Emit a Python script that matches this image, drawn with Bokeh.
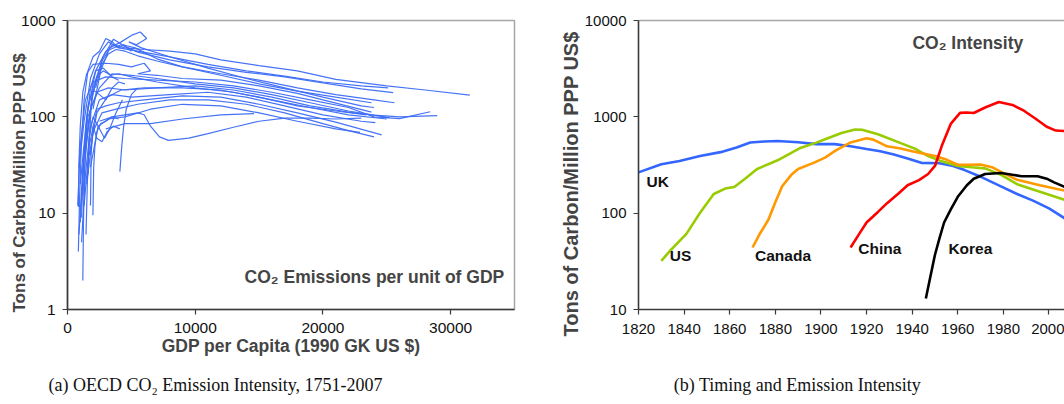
from bokeh.plotting import figure
from bokeh.layouts import row, column
from bokeh.models import Range1d, FixedTicker, NumeralTickFormatter, Label, LinearAxis, Title
from bokeh.core.properties import value
from bokeh.embed import file_html
from bokeh.resources import INLINE

SANS = "Liberation Sans"
SERIF = "Liberation Serif"

# ---------------- panel (a): OECD intensity vs GDP per capita ----------------
gdp_01 = [1200, 1500, 2000, 2700, 3500, 4500, 6000, 8000, 10000, 12000, 15000, 18000, 21000, 25000, 28000, 31500]
int_01 = [15, 60, 180, 380, 560, 520, 500, 480, 450, 390, 340, 300, 245, 210, 190, 168]
gdp_02 = [900, 1300, 1800, 2500, 3200, 4000, 5500, 8000, 11000, 14000, 17000, 20000, 23000, 25100]
int_02 = [30, 90, 250, 450, 600, 520, 480, 420, 350, 300, 265, 230, 210, 200]
gdp_03 = [1000, 1500, 2200, 3000, 4200, 5500, 8000, 11000, 14000, 17000, 20000, 23000, 25500]
int_03 = [20, 100, 300, 480, 560, 470, 390, 330, 290, 260, 225, 195, 178]
gdp_04 = [1400, 2000, 2800, 3600, 4300, 5300, 7000, 9000, 12000, 15000, 18000, 21000, 23800]
int_04 = [40, 200, 420, 640, 560, 520, 400, 330, 270, 220, 185, 160, 140]
gdp_05 = [2000, 2600, 3300, 4200, 5000, 5700, 6200, 5400, 4800, 5800, 8000, 11000, 14000, 17000, 20000, 23000, 24000]
int_05 = [120, 300, 520, 600, 700, 760, 650, 560, 600, 520, 420, 320, 250, 200, 160, 130, 125]
gdp_06 = [800, 1000, 1400, 2000, 3000, 4500, 7000, 10000, 13000, 16000, 19000, 22000, 24000, 26000, 28400]
int_06 = [12, 50, 150, 230, 260, 250, 240, 230, 210, 180, 150, 125, 100, 96, 113]
gdp_07 = [1000, 1300, 1800, 2500, 3500, 5000, 7000, 10000, 13000, 16000, 19000, 22000, 25200]
int_07 = [8, 40, 120, 200, 280, 270, 250, 220, 200, 170, 140, 115, 98]
gdp_08 = [900, 1200, 1600, 2300, 3200, 4500, 7000, 10000, 13000, 16000, 19000, 22000, 24000, 26000, 28950]
int_08 = [6, 30, 100, 180, 200, 190, 200, 210, 190, 160, 130, 112, 104, 100, 103]
gdp_09 = [1100, 1400, 1800, 2500, 3500, 5000, 8000, 11000, 14000, 17000, 20000, 23000, 24100]
int_09 = [5, 25, 80, 150, 170, 160, 170, 180, 160, 130, 105, 90, 87]
gdp_10 = [1300, 1700, 2300, 3000, 4000, 6000, 9000, 12000, 15000, 18000, 21000, 24600]
int_10 = [12, 50, 120, 130, 140, 150, 165, 160, 135, 110, 88, 65]
gdp_11 = [1500, 2000, 2700, 3800, 5500, 8000, 11000, 14000, 17000, 20000, 22000, 24000]
int_11 = [20, 70, 110, 120, 135, 150, 150, 135, 110, 85, 72, 62]
gdp_12 = [1800, 2400, 3200, 4500, 6500, 9000, 12000, 15000, 18000, 21000, 22900]
int_12 = [30, 80, 95, 100, 120, 135, 130, 110, 90, 75, 69]
gdp_13 = [1700, 2300, 3100, 4200, 6000, 9000, 12000, 15000, 18000, 21000, 23400]
int_13 = [40, 110, 160, 190, 200, 200, 190, 160, 130, 115, 105]
gdp_14 = [2500, 3500, 4500, 5500, 6000, 6500, 7200, 7900, 9500, 11000, 13000, 15000, 17000, 19000, 21000, 23000]
int_14 = [90, 100, 105, 110, 105, 80, 62, 57, 60, 67, 78, 90, 97, 97, 95, 97]
gdp_15 = [3000, 4500, 6500, 9000, 12000, 14600]
int_15 = [75, 85, 85, 95, 105, 108]
gdp_16 = [850, 950, 1100, 1300, 1600, 2000, 2500, 3000, 3500, 4000, 4400, 5000]
int_16 = [4, 15, 60, 150, 300, 420, 480, 650, 600, 520, 560, 480]
gdp_17 = [1200, 1250, 1350, 1500, 1800, 2200, 2800, 3500, 4000]
int_17 = [2, 8, 30, 90, 200, 300, 320, 260, 240]
gdp_18 = [1100, 1300, 1600, 2000, 2500, 3000, 3500, 4000, 4500]
int_18 = [9, 45, 130, 190, 170, 150, 200, 230, 220]
gdp_19 = [1450, 1550, 1700, 2000, 2400, 2900, 3300, 3800, 4300]
int_19 = [6, 20, 60, 100, 80, 60, 75, 110, 150]
gdp_20 = [1990, 2050, 2150, 2300, 2600, 3000, 3500, 4000]
int_20 = [9.5, 30, 50, 70, 85, 90, 100, 95]
gdp_21 = [1800, 1850, 2000, 2300, 2700, 3100, 3600, 4100]
int_21 = [12, 40, 80, 60, 55, 70, 80, 75]
gdp_22 = [4100, 4250, 4400, 4600, 5000, 5500]
int_22 = [27, 50, 80, 120, 170, 200]
gdp_23 = [850, 900, 1000, 1200, 1500, 2000, 3000, 4000, 5000, 6000, 6500, 5500, 7000, 9000, 12000, 15000, 18000, 20000, 23800]
int_23 = [11.6, 35, 80, 180, 280, 350, 360, 350, 330, 360, 300, 280, 270, 250, 240, 210, 175, 150, 112]
gdp_24 = [1600, 1700, 1900, 2300, 2800, 3400, 4000, 5000, 7000, 10000, 13000, 16000, 19000, 22000, 25000]
int_24 = [25, 60, 150, 260, 300, 270, 280, 260, 230, 200, 180, 150, 125, 105, 95]
gdp_25 = [2200, 2700, 3200, 3800, 4500, 5500, 7000, 9000, 12000, 15000, 18000, 21000, 24000, 25600]
int_25 = [200, 350, 450, 500, 480, 430, 380, 330, 280, 240, 200, 170, 150, 140]

oecd_paths = [
    (gdp_01, int_01), (gdp_02, int_02), (gdp_03, int_03), (gdp_04, int_04),
    (gdp_05, int_05), (gdp_06, int_06), (gdp_07, int_07), (gdp_08, int_08),
    (gdp_09, int_09), (gdp_10, int_10), (gdp_11, int_11), (gdp_12, int_12),
    (gdp_13, int_13), (gdp_14, int_14), (gdp_15, int_15), (gdp_16, int_16),
    (gdp_17, int_17), (gdp_18, int_18), (gdp_19, int_19), (gdp_20, int_20),
    (gdp_21, int_21), (gdp_22, int_22), (gdp_23, int_23), (gdp_24, int_24),
    (gdp_25, int_25),
]
left_xticks = [0, 10000, 20000, 30000]
left_yticks = [1, 10, 100, 1000]

# ---------------- panel (b): intensity over time ----------------
uk_years = [1820, 1830, 1838, 1847, 1856, 1863, 1869, 1875, 1881, 1890, 1898, 1906, 1913, 1920, 1926,
            1932, 1938, 1944, 1952, 1958, 1963, 1969, 1975, 1981, 1986, 1993, 2000, 2007]
uk_vals = [265, 322, 348, 392, 430, 480, 542, 555, 562, 545, 521, 521, 495, 464, 440,
           406, 370, 333, 330, 309, 280, 245, 210, 180, 158, 135, 112, 88]
us_years = [1830, 1834, 1841, 1847, 1853, 1858, 1862, 1867, 1872, 1881, 1891, 1898, 1903, 1909,
            1915, 1918, 1925, 1935, 1941, 1947, 1953, 1960, 1966, 1972, 1979, 1986, 1996, 2007]
us_vals = [32, 41, 61, 101, 158, 180, 187, 230, 287, 354, 475, 540, 600, 680,
           740, 735, 660, 533, 470, 392, 345, 309, 300, 292, 250, 200, 167, 137]
ca_years = [1870, 1873, 1877, 1880, 1883, 1887, 1890, 1897, 1902, 1906, 1913, 1920, 1923, 1929,
            1935, 1940, 1950, 1955, 1960, 1965, 1970, 1975, 1980, 1986, 1996, 2007]
ca_vals = [44, 60, 86, 130, 190, 250, 287, 335, 380, 440, 542, 600, 580, 494,
           470, 440, 392, 360, 318, 318, 320, 300, 260, 222, 195, 171]
cn_years = [1913, 1917, 1920, 1925, 1929, 1934, 1938, 1943, 1947, 1950, 1953, 1957, 1961, 1964,
            1967, 1972, 1978, 1984, 1989, 1994, 1999, 2003, 2007]
cn_vals = [44, 62, 80, 103, 127, 160, 195, 220, 255, 309, 500, 851, 1100, 1110,
           1097, 1250, 1428, 1330, 1158, 960, 790, 720, 711]
kr_years = [1946, 1948, 1950, 1952, 1954, 1957, 1960, 1964, 1967, 1972, 1979, 1984, 1988, 1995,
            1999, 2002, 2007]
kr_vals = [13, 22, 37, 55, 80, 110, 148, 195, 228, 255, 261, 250, 242, 242, 228, 210, 187]

country_names = ["UK", "US", "Canada", "China", "Korea"]
country_label_x = [1823.5, 1833.7, 1871.1, 1916.4, 1955.9]
country_label_y = [214, 36.6, 36.6, 43, 43]
right_xticks = list(range(1820, 2001, 20))
right_yticks = [10, 100, 1000, 10000]

AXIS = "#3a3a3a"
FRAME = "#a6a6a6"
YTITLE = "Tons of Carbon/Million PPP US$"


def style_axes(p, size):
    for ax in (p.xaxis[0], p.yaxis[0]):
        ax.axis_line_color = AXIS
        ax.axis_line_width = 1.6
        ax.major_tick_line_color = AXIS
        ax.major_tick_line_width = 1.2
        ax.major_tick_out = 5
        ax.major_tick_in = 0
        ax.minor_tick_line_color = None
        ax.major_label_text_font = SANS
        ax.major_label_text_font_size = size
        ax.major_label_text_color = "#111111"
    p.xgrid.visible = False
    p.ygrid.visible = False


# ---- left figure ----
p1 = figure(width=540, height=364, y_axis_type="log",
            x_range=Range1d(0, 35000), y_range=Range1d(1, 1000),
            output_backend="svg", toolbar_location=None,
            min_border_left=67, min_border_right=26, min_border_top=17,
            min_border_bottom=55)
p1.outline_line_color = FRAME
p1.outline_line_width = 1.5
style_axes(p1, "15.5px")
p1.xaxis.ticker = FixedTicker(ticks=left_xticks)
p1.yaxis.ticker = FixedTicker(ticks=left_yticks)
p1.xaxis.formatter = NumeralTickFormatter(format="0")
p1.yaxis.formatter = NumeralTickFormatter(format="0")
p1.xaxis.major_label_standoff = 8
p1.yaxis.major_label_standoff = 7
p1.xaxis.axis_label = "GDP per Capita (1990 GK US $)"
p1.xaxis.axis_label_text_font = SANS
p1.xaxis.axis_label_text_font_style = "bold"
p1.xaxis.axis_label_text_font_size = "17.5px"
p1.xaxis.axis_label_standoff = 0
p1.add_layout(Title(text=YTITLE, align="left", offset=-3, standoff=-20,
                    text_font=SANS, text_font_style="bold",
                    text_font_size="17px"), "left")

for gx, gy in oecd_paths:
    p1.line(gx, gy, line_color="#3c6cf6", line_width=1.2, line_alpha=0.95)

p1.add_layout(Label(x=13867, y=2.16, text="CO₂ Emissions per unit of GDP",
                    text_font=SANS, text_font_style="bold", text_font_size="17.5px",
                    text_align="left", text_baseline="middle"))

# ---- right figure ----
p2 = figure(width=524, height=364, y_axis_type="log",
            x_range=Range1d(1820, 2006.8), y_range=Range1d(10, 10000),
            output_backend="svg", toolbar_location=None,
            min_border_left=98, min_border_right=0, min_border_top=20,
            min_border_bottom=48)
p2.outline_line_color = None
style_axes(p2, "15px")
p2.xaxis.ticker = FixedTicker(ticks=right_xticks)
p2.yaxis.ticker = FixedTicker(ticks=right_yticks)
p2.xaxis.formatter = NumeralTickFormatter(format="0")
p2.yaxis.formatter = NumeralTickFormatter(format="0")
p2.xaxis.major_label_standoff = 9
p2.yaxis.major_label_standoff = 7
p2.add_layout(Title(text=YTITLE, align="left", offset=-27, standoff=0,
                    text_font=SANS, text_font_style="bold",
                    text_font_size="20px"), "left")

top = LinearAxis(ticker=FixedTicker(ticks=[]), axis_line_color=FRAME,
                 axis_line_width=1.5, major_tick_line_color=None,
                 minor_tick_line_color=None)
p2.add_layout(top, "above")

series = [(uk_years, uk_vals, "#3366ff"), (us_years, us_vals, "#99cc00"),
          (ca_years, ca_vals, "#ff9900"), (cn_years, cn_vals, "#ff0000"),
          (kr_years, kr_vals, "#000000")]
for xs, ys, col in series:
    p2.line(xs, ys, line_color=col, line_width=2.6)

p2.text(x=country_label_x, y=country_label_y, text=country_names,
        text_font=value(SANS), text_font_style="bold", text_font_size="15.5px",
        text_align="left", text_baseline="middle", text_color="#111111")
p2.add_layout(Label(x=1940.1, y=5860, text="CO₂ Intensity",
                    text_font=SANS, text_font_style="bold", text_font_size="17.5px",
                    text_align="left", text_baseline="middle"))

# ---- sub-figure captions ----
cap = figure(width=1064, height=40, x_range=Range1d(0, 1064), y_range=Range1d(0, 40),
             output_backend="svg", toolbar_location=None,
             x_axis_location=None, y_axis_location=None,
             min_border_left=0, min_border_right=0, min_border_top=0, min_border_bottom=0)
cap.outline_line_color = None
cap.xgrid.visible = False
cap.ygrid.visible = False
cap.text(x=[215, 797], y=[20, 20],
         text=["(a) OECD CO₂ Emission Intensity, 1751-2007", "(b) Timing and Emission Intensity"],
         text_font=value(SERIF), text_font_size="18px", text_color="#111111",
         text_align="center", text_baseline="middle")

layout = column(row(p1, p2, spacing=0), cap, spacing=0)
open("out.html", "w").write(file_html(layout, INLINE))
